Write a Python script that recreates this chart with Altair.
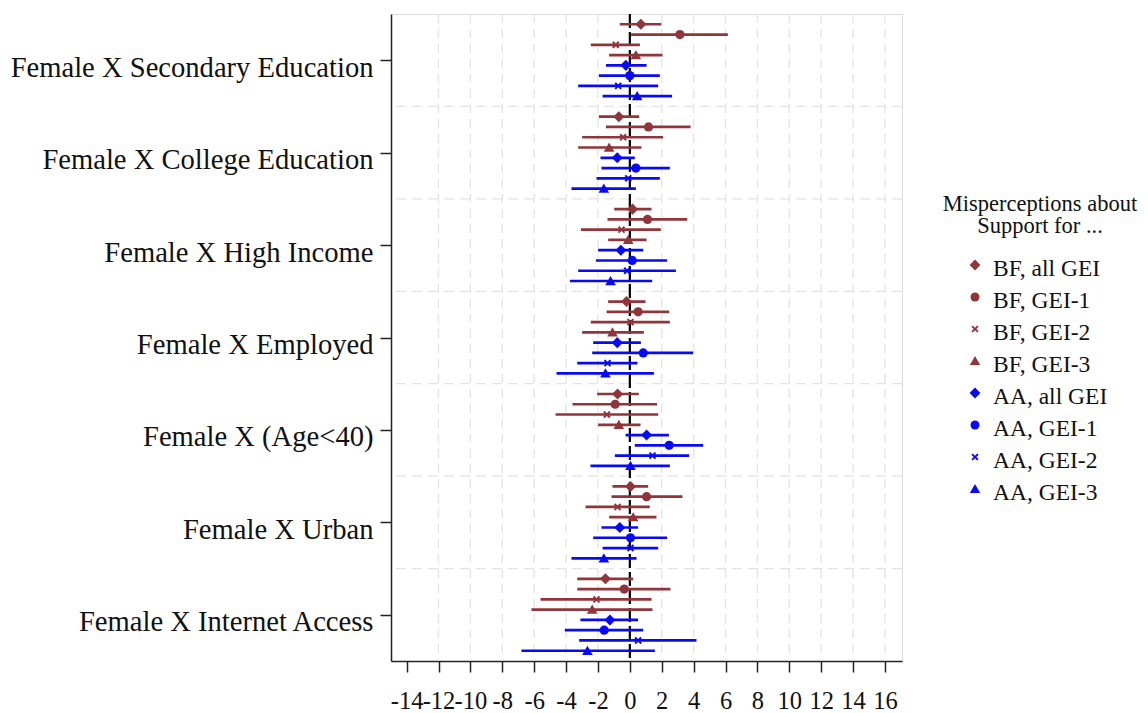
import altair as alt
import pandas as pd

groups = [
    "Female X Secondary Education",
    "Female X College Education",
    "Female X High Income",
    "Female X Employed",
    "Female X (Age<40)",
    "Female X Urban",
    "Female X Internet Access",
]

series = ["BF, all GEI", "BF, GEI-1", "BF, GEI-2", "BF, GEI-3",
          "AA, all GEI", "AA, GEI-1", "AA, GEI-2", "AA, GEI-3"]

bf_all_est = [0.69, -0.69, 0.17, -0.21, -0.77, 0.04, -1.53]
bf_all_lo = [-0.63, -1.94, -0.98, -1.36, -2.05, -1.09, -3.30]
bf_all_hi = [1.98, 0.59, 1.36, 0.98, 0.56, 1.15, 0.21]

bf_g1_est = [3.14, 1.17, 1.11, 0.52, -0.92, 1.05, -0.35]
bf_g1_lo = [0.05, -1.50, -1.40, -1.46, -3.60, -1.15, -3.30]
bf_g1_hi = [6.15, 3.81, 3.60, 2.47, 1.71, 3.30, 2.55]

bf_g2_est = [-0.88, -0.42, -0.52, 0.04, -1.44, -0.77, -2.09]
bf_g2_lo = [-2.45, -2.99, -3.07, -2.45, -4.66, -2.78, -5.60]
bf_g2_hi = [0.63, 2.09, 1.94, 2.51, 1.78, 1.25, 1.36]

bf_g3_est = [0.38, -1.30, -0.10, -1.09, -0.69, 0.21, -2.36]
bf_g3_lo = [-1.30, -3.24, -1.36, -2.99, -1.99, -1.30, -6.17]
bf_g3_hi = [2.05, 0.73, 1.05, 0.88, 0.67, 1.67, 1.42]

aa_all_est = [-0.25, -0.79, -0.56, -0.79, 1.05, -0.63, -1.25]
aa_all_lo = [-1.50, -1.84, -1.99, -2.30, -0.27, -1.78, -3.10]
aa_all_hi = [1.05, 0.31, 0.84, 0.69, 2.45, 0.52, 0.52]

aa_g1_est = [0.00, 0.38, 0.15, 0.84, 2.47, 0.04, -1.61]
aa_g1_lo = [-1.94, -1.78, -2.13, -2.36, 0.31, -2.30, -4.08]
aa_g1_hi = [1.88, 2.51, 2.34, 3.97, 4.60, 2.34, 0.84]

aa_g2_est = [-0.73, -0.10, -0.17, -1.40, 1.42, 0.04, 0.52]
aa_g2_lo = [-3.24, -2.09, -3.24, -3.30, -0.94, -1.71, -3.18]
aa_g2_hi = [1.78, 1.88, 2.89, 0.48, 3.72, 1.78, 4.18]

aa_g3_est = [0.46, -1.63, -1.21, -1.53, 0.04, -1.63, -2.66]
aa_g3_lo = [-1.71, -3.66, -3.76, -4.60, -2.47, -3.66, -6.80]
aa_g3_hi = [2.65, 0.38, 1.40, 1.51, 2.51, 0.42, 1.57]

x_ticks = list(range(-14, 17, 2))
legend_title = ["Misperceptions about", "Support for ..."]

ests = [bf_all_est, bf_g1_est, bf_g2_est, bf_g3_est, aa_all_est, aa_g1_est, aa_g2_est, aa_g3_est]
los = [bf_all_lo, bf_g1_lo, bf_g2_lo, bf_g3_lo, aa_all_lo, aa_g1_lo, aa_g2_lo, aa_g3_lo]
his = [bf_all_hi, bf_g1_hi, bf_g2_hi, bf_g3_hi, aa_all_hi, aa_g1_hi, aa_g2_hi, aa_g3_hi]

rows = []
for k, name in enumerate(series):
    for g, grp in enumerate(groups):
        rows.append({"series": name, "group": grp, "pos": g * 9 + k,
                     "est": ests[k][g], "lo": los[k][g], "hi": his[k][g]})
df = pd.DataFrame(rows)

maroon = "#90353B"
blue = "#0a0af2"
colors = [maroon] * 4 + [blue] * 4
diamond = "M0,-1.2L1.2,0L0,1.2L-1.2,0Z"
xshape = ("M-0.8,-0.5L-0.5,-0.8L0,-0.3L0.5,-0.8L0.8,-0.5L0.3,0L0.8,0.5"
          "L0.5,0.8L0,0.3L-0.5,0.8L-0.8,0.5L-0.3,0Z")
triangle = "M0,-1.1L1.15,0.9L-1.15,0.9Z"
shapes = [diamond, "circle", xshape, triangle] * 2

FONT = "Liberation Serif"
xscale = alt.Scale(domain=[-14.98, 17.07], nice=False, zero=False)
yscale = alt.Scale(domain=[-1, 62], nice=False, zero=False, reverse=True)
cscale = alt.Scale(domain=series, range=colors)
sscale = alt.Scale(domain=series, range=shapes)

label_expr = "[" + ",".join("'" + g + "'" for g in groups) + "][round((datum.value - 3.5) / 9)]"
xaxis = alt.Axis(values=x_ticks, title=None, grid=False, tickSize=11, tickWidth=1.5,
                 tickColor="#222", domainColor="#222", domainWidth=1.5,
                 labelExpr="toString(datum.value)",
                 labelFontSize=24.5, labelPadding=17, labelOverlap=False,
                 labelFlush=False, labelFont=FONT, labelColor="#111")
yaxis = alt.Axis(values=[3.5 + 9 * g for g in range(7)], labelExpr=label_expr,
                 title=None, grid=False, tickSize=11, tickWidth=1.5,
                 tickColor="#222", domainColor="#222", domainWidth=1.5,
                 labelFontSize=28.6, labelPadding=7, labelLimit=500,
                 labelFont=FONT, labelColor="#111", labelOffset=7)

vgrid_df = pd.DataFrame({"x": [v for v in x_ticks if v not in (-14, 0)]})
hgrid_df = pd.DataFrame({"pos": [8 + 9 * g for g in range(6)]})
zero_df = pd.DataFrame({"x": [0]})

vgrid = alt.Chart(vgrid_df).mark_rule(color="#e4e4e4", strokeWidth=1.3, strokeDash=[9, 6]).encode(
    x=alt.X("x:Q", scale=xscale, axis=xaxis))
hgrid = alt.Chart(hgrid_df).mark_rule(color="#e4e4e4", strokeWidth=1.3, strokeDash=[10, 6]).encode(
    y=alt.Y("pos:Q", scale=yscale, axis=yaxis))
zero = alt.Chart(zero_df).mark_rule(color="black", strokeWidth=2.2, strokeDash=[14, 4]).encode(
    x=alt.X("x:Q", scale=xscale, axis=xaxis))

ci = alt.Chart(df).mark_rule(strokeWidth=2.7).encode(
    x=alt.X("lo:Q", scale=xscale, axis=xaxis),
    x2="hi:Q",
    y=alt.Y("pos:Q", scale=yscale, axis=yaxis),
    color=alt.Color("series:N", scale=cscale, legend=None),
)

pts = alt.Chart(df).mark_point(filled=True, opacity=1, size=85).encode(
    x=alt.X("est:Q", scale=xscale, axis=xaxis),
    y=alt.Y("pos:Q", scale=yscale, axis=yaxis),
    color=alt.Color("series:N", scale=cscale, legend=None),
    shape=alt.Shape("series:N", scale=sscale, legend=None),
)

# legend (drawn as marks, pixel positions relative to the plot area)
LEG_TOP = 251
LEG_GAP = 32
leg_df = pd.DataFrame({"series": series,
                       "ly": [LEG_TOP + LEG_GAP * k for k in range(len(series))]})

leg_sym = alt.Chart(leg_df).mark_point(filled=True, opacity=1, size=81).encode(
    x=alt.value(584),
    y=alt.Y("ly:Q", scale=None),
    color=alt.Color("series:N", scale=cscale, legend=None),
    shape=alt.Shape("series:N", scale=sscale, legend=None),
)
leg_txt = alt.Chart(leg_df).mark_text(
    font=FONT, fontSize=23.5, align="left", baseline="middle", dy=3.5, color="#111").encode(
    x=alt.value(602),
    y=alt.Y("ly:Q", scale=None),
    text="series:N",
)

title_txt = alt.Chart(pd.DataFrame({"t": [0]})).mark_text(
    text=legend_title, font=FONT, fontSize=22.5, align="center", baseline="alphabetic",
    lineHeight=22.5, color="#111").encode(x=alt.value(649), y=alt.value(196.5))

chart = alt.layer(vgrid, hgrid, zero, ci, pts, leg_sym, leg_txt, title_txt).properties(
    width=511, height=647,
    autosize=alt.AutoSizeParams(type="none"),
    padding={"left": 383, "top": 6, "right": 238, "bottom": 54},
).configure_view(stroke=None).configure(background="white")

chart.save("out.html", embed_options={"renderer": "svg", "actions": False})
